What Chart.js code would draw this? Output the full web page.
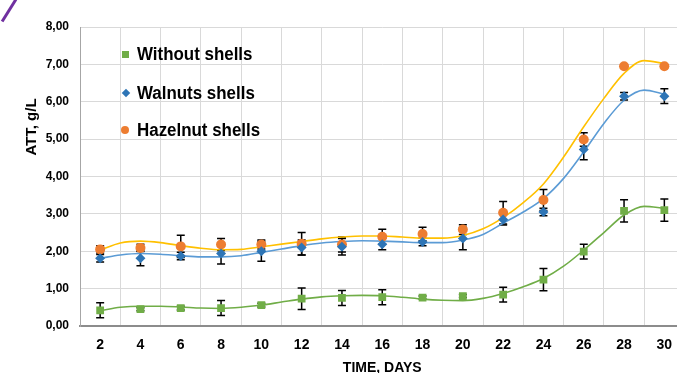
<!DOCTYPE html>
<html>
<head>
<meta charset="utf-8">
<script src="https://cdn.jsdelivr.net/npm/chart.js@4.4.1/dist/chart.umd.min.js"></script>
<style>
body { margin: 0; overflow: hidden; background: #fff; font-family: "Liberation Sans", Arial, sans-serif; }
#wrap { position: relative; width: 690px; height: 390px; }
.item { position: absolute; left: 137px; font-weight: bold; font-size: 18px; line-height: 20px; color: #000; white-space: nowrap; transform: scaleX(0.94); transform-origin: left center; }
.mk { position: absolute; }
#arc { position: absolute; left: -4px; top: 9px; width: 26px; height: 3px; background: #7030a0; transform: rotate(-58deg); }
</style>
</head>
<body>
<div id="wrap">
  <canvas id="att" width="690" height="390"></canvas>
  <div id="arc"></div>
  <div class="mk" style="left:122px;top:51px;width:7px;height:7px;background:#70ad47"></div>
  <div class="item" style="top:44px">Without shells</div>
  <div class="mk" style="left:123px;top:90px;width:6px;height:6px;background:#2e75b6;transform:rotate(45deg)"></div>
  <div class="item" style="top:83px">Walnuts shells</div>
  <div class="mk" style="left:121px;top:126px;width:8px;height:8px;border-radius:50%;background:#ed7d31"></div>
  <div class="item" style="top:120px">Hazelnut shells</div>
</div>
<script>
// sampling days (x axis categories)
var days = [2, 4, 6, 8, 10, 12, 14, 16, 18, 20, 22, 24, 26, 28, 30];

// measured ATT, g/L
var without = [0.42, 0.45, 0.48, 0.48, 0.56, 0.73, 0.75, 0.77, 0.76, 0.80, 0.84, 1.24, 1.99, 3.08, 3.10];
var withoutErr = [0.2, 0.04, 0.05, 0.2, 0.05, 0.29, 0.2, 0.2, 0.04, 0.04, 0.2, 0.3, 0.2, 0.3, 0.3];
var walnut = [1.81, 1.81, 1.87, 1.94, 2.00, 2.10, 2.12, 2.19, 2.25, 2.34, 2.85, 3.05, 4.72, 6.15, 6.15];
var walnutErr = [0.1, 0.2, 0.1, 0.28, 0.27, 0.2, 0.22, 0.15, 0.1, 0.3, 0.15, 0.1, 0.27, 0.1, 0.2];
var hazel = [2.05, 2.09, 2.13, 2.18, 2.18, 2.20, 2.18, 2.39, 2.46, 2.58, 3.03, 3.37, 4.99, 6.95, 6.95];
var hazelErr = [0.1, 0.1, 0.3, 0.16, 0.12, 0.3, 0.2, 0.2, 0.18, 0.13, 0.3, 0.28, 0.18, 0.03, 0.03];

// trend lines
var trendDays = [2, 3, 4, 5, 6, 7, 8, 9, 10, 11, 12, 13, 14, 15, 16, 17, 18, 19, 20, 21, 22, 23, 24, 25, 26, 27, 28, 29, 30];
var withoutTrend = [0.41, 0.50, 0.53, 0.53, 0.51, 0.48, 0.47, 0.50, 0.56, 0.64, 0.72, 0.78, 0.81, 0.82, 0.81, 0.77, 0.72, 0.69, 0.68, 0.74, 0.87, 1.05, 1.27, 1.60, 2.03, 2.50, 2.97, 3.20, 3.15];
var walnutTrend = [1.81, 1.90, 1.94, 1.92, 1.88, 1.85, 1.85, 1.88, 1.97, 2.06, 2.15, 2.22, 2.26, 2.28, 2.27, 2.25, 2.23, 2.23, 2.30, 2.45, 2.75, 3.05, 3.41, 3.95, 4.66, 5.42, 6.04, 6.31, 6.20];
var hazelTrend = [2.03, 2.22, 2.27, 2.23, 2.15, 2.08, 2.04, 2.05, 2.12, 2.19, 2.26, 2.33, 2.38, 2.41, 2.41, 2.38, 2.35, 2.35, 2.42, 2.60, 2.90, 3.30, 3.80, 4.52, 5.33, 6.09, 6.76, 7.10, 7.02];

function pts(xs, ys) {
  return xs.map(function (x, i) { return { x: x, y: ys[i] }; });
}

// error bars go under the markers, like in the original
var errorBars = {
  id: 'errorBars',
  beforeDatasetsDraw: function (chart) {
    var ctx = chart.ctx, sx = chart.scales.x, sy = chart.scales.y;
    ctx.save();
    ctx.strokeStyle = '#000';
    ctx.lineWidth = 1.5;
    chart.data.datasets.forEach(function (ds) {
      if (!ds.errors) return;
      ds.data.forEach(function (p, i) {
        var px = sx.getPixelForValue(p.x);
        var top = sy.getPixelForValue(p.y + ds.errors[i]);
        var bot = sy.getPixelForValue(p.y - ds.errors[i]);
        ctx.beginPath();
        ctx.moveTo(px, top); ctx.lineTo(px, bot);
        ctx.moveTo(px - 4, top); ctx.lineTo(px + 4, top);
        ctx.moveTo(px - 4, bot); ctx.lineTo(px + 4, bot);
        ctx.stroke();
      });
    });
    ctx.restore();
  }
};

var yTitle = {
  id: 'yTitle',
  afterDraw: function (chart) {
    var ctx = chart.ctx;
    ctx.save();
    ctx.translate(32, 127);
    ctx.rotate(-Math.PI / 2);
    ctx.font = 'bold 15px "Liberation Sans", Arial';
    ctx.textAlign = 'center';
    ctx.textBaseline = 'middle';
    ctx.fillStyle = '#000';
    ctx.fillText('ATT, g/L', 0, 0);
    ctx.restore();
  }
};

new Chart("att", {
  type: "line",
  data: {
    datasets: [{
      label: 'Without shells',
      data: pts(days, without),
      errors: withoutErr,
      showLine: false,
      pointStyle: 'rect',
      pointRadius: 5.5,
      pointBackgroundColor: '#70ad47',
      pointBorderWidth: 0,
      order: 1
    }, {
      label: 'Walnuts shells',
      data: pts(days, walnut),
      errors: walnutErr,
      showLine: false,
      pointStyle: 'rectRot',
      pointRadius: 5,
      pointBackgroundColor: '#2e75b6',
      pointBorderWidth: 0,
      order: 1
    }, {
      label: 'Hazelnut shells',
      data: pts(days, hazel),
      errors: hazelErr,
      showLine: false,
      pointStyle: 'circle',
      pointRadius: 5,
      pointBackgroundColor: '#ed7d31',
      pointBorderWidth: 0,
      order: 1
    }, {
      label: 'trend without',
      data: pts(trendDays, withoutTrend),
      borderColor: '#70ad47',
      borderWidth: 1.6,
      pointRadius: 0,
      cubicInterpolationMode: 'monotone',
      order: 2
    }, {
      label: 'trend walnuts',
      data: pts(trendDays, walnutTrend),
      borderColor: '#5b9bd5',
      borderWidth: 1.6,
      pointRadius: 0,
      cubicInterpolationMode: 'monotone',
      order: 2
    }, {
      label: 'trend hazelnut',
      data: pts(trendDays, hazelTrend),
      borderColor: '#ffc000',
      borderWidth: 1.6,
      pointRadius: 0,
      cubicInterpolationMode: 'monotone',
      order: 2
    }]
  },
  options: {
    responsive: false,
    animation: false,
    layout: { padding: { top: 27, right: 5, left: 0, bottom: 0 } },
    plugins: {
      legend: { display: false },
      tooltip: { enabled: false }
    },
    scales: {
      x: {
        type: 'linear',
        min: 1,
        max: 31,
        afterBuildTicks: function (s) {
          s.ticks = days.map(function (d) { return { value: d }; });
        },
        afterFit: function (s) { s.height = 64; },
        grid: { offset: true, color: '#d9d9d9', drawTicks: false },
        border: { color: '#8c8c8c', width: 2 },
        ticks: { color: '#000', padding: 11, font: { family: '"Liberation Sans", Arial', size: 14, weight: 'bold' } },
        title: {
          display: true,
          text: 'TIME, DAYS',
          color: '#000',
          padding: { top: 0, bottom: 13 },
          font: { family: '"Liberation Sans", Arial', size: 14, weight: 'bold' }
        }
      },
      y: {
        min: 0,
        max: 8,
        afterFit: function (s) { s.width = 80; },
        grid: { color: '#d9d9d9', drawTicks: false },
        border: { color: '#a6a6a6', width: 1 },
        ticks: {
          stepSize: 1,
          color: '#000',
          padding: 11,
          font: { family: '"Liberation Sans", Arial', size: 12, weight: 'bold' },
          callback: function (v) { return v.toFixed(2).replace('.', ','); }
        }
      }
    }
  },
  plugins: [errorBars, yTitle]
});
</script>
</body>
</html>
